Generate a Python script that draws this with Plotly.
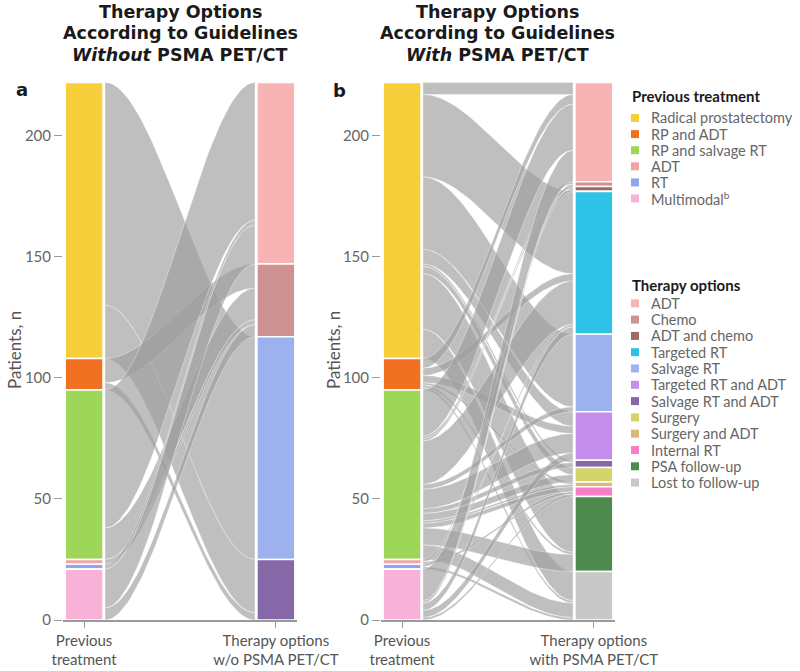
import numpy as np
import plotly.graph_objects as go

# ---------------- data ----------------
prev_labels = ["Radical prostatectomy", "RP and ADT", "RP and salvage RT", "ADT", "RT", "Multimodal<sup>b</sup>"]
prev_colors = ["#F7CF3B", "#F07122", "#9ED65A", "#F2A3A6", "#8EA6EE", "#F8B2D8"]

therapy_labels = ["ADT", "Chemo", "ADT and chemo", "Targeted RT", "Salvage RT", "Targeted RT and ADT",
                  "Salvage RT and ADT", "Surgery", "Surgery and ADT", "Internal RT", "PSA follow-up",
                  "Lost to follow-up"]
therapy_colors = ["#F8B4B4", "#CF9292", "#9C6B64", "#2EC3E6", "#9DB1EE", "#C58DEC",
                  "#8667A8", "#D5D46A", "#DDB87A", "#F77FC8", "#4E8A4E", "#C8C8C8"]

# patients: rows = previous treatment, columns = therapy option
flows_without = [
    [0, 0, 0, 0, 92, 0, 22, 0, 0, 0, 0, 0],   # Radical prostatectomy
    [0, 10, 0, 0, 0, 0, 3, 0, 0, 0, 0, 0],    # RP and ADT
    [57, 13, 0, 0, 0, 0, 0, 0, 0, 0, 0, 0],   # RP and salvage RT
    [0, 2, 0, 0, 0, 0, 0, 0, 0, 0, 0, 0],     # ADT
    [2, 0, 0, 0, 0, 0, 0, 0, 0, 0, 0, 0],     # RT
    [16, 5, 0, 0, 0, 0, 0, 0, 0, 0, 0, 0],    # Multimodal
]
flows_with = [
    [5, 0, 0, 34, 30, 6, 1, 3, 0, 0, 23, 12],
    [4, 0, 0, 3, 0, 3, 0, 0, 1, 0, 1, 1],
    [19, 1, 1, 18, 2, 8, 2, 3, 1, 2, 7, 6],
    [0, 0, 1, 0, 0, 0, 0, 0, 0, 1, 0, 0],
    [0, 0, 0, 1, 0, 0, 0, 0, 0, 0, 0, 1],
    [13, 1, 0, 3, 0, 3, 0, 0, 0, 1, 0, 0],
]
left_tick = "Previous<br>treatment"
right_ticks = ["Therapy options<br>w/o PSMA PET/CT", "Therapy options<br>with PSMA PET/CT"]
y_ticks = [0, 50, 100, 150, 200]

# ---------------- figure ----------------
W, H = 800, 671
def px(x):
    return x / W
def py(y):
    return 1 - y / H

BAR_W = 0.198
FLOW_FILL = "rgba(158,158,158,0.66)"
fig = go.Figure()


def add_panel(matrix, xa, ya):
    M = np.array(matrix, dtype=float)
    L = M.sum(1)
    R = M.sum(0)
    total = M.sum()
    left_top = total - np.concatenate([[0], np.cumsum(L)[:-1]])
    right_top = total - np.concatenate([[0], np.cumsum(R)[:-1]])
    x0, x1 = 1 + BAR_W / 2 + 0.01, 2 - BAR_W / 2 - 0.01
    t = np.linspace(0, 1, 60)
    s = 3 * t ** 2 - 2 * t ** 3
    xs = x0 + (x1 - x0) * t
    for i in range(M.shape[0]):
        for j in range(M.shape[1]):
            v = M[i, j]
            if v <= 0:
                continue
            lt = left_top[i] - M[i, :j].sum()
            rt = right_top[j] - M[:i, j].sum()
            up = lt + (rt - lt) * s
            lo = (lt - v) + ((rt - v) - (lt - v)) * s
            fig.add_trace(go.Scatter(
                x=np.concatenate([xs, xs[::-1], xs[:1]]),
                y=np.concatenate([up, lo[::-1], up[:1]]),
                mode="lines", fill="toself", fillcolor=FLOW_FILL,
                line=dict(color="rgba(255,255,255,0.7)", width=0.5),
                hoverinfo="skip", showlegend=False, xaxis=xa, yaxis=ya))
    for i, v in enumerate(L):
        if v > 0:
            fig.add_trace(go.Bar(x=[1], y=[v], base=[left_top[i] - v], width=BAR_W,
                                 marker=dict(color=prev_colors[i], line=dict(color="white", width=1.6)),
                                 showlegend=False, xaxis=xa, yaxis=ya, hoverinfo="skip"))
    for j, v in enumerate(R):
        if v > 0:
            fig.add_trace(go.Bar(x=[2], y=[v], base=[right_top[j] - v], width=BAR_W,
                                 marker=dict(color=therapy_colors[j], line=dict(color="white", width=1.6)),
                                 showlegend=False, xaxis=xa, yaxis=ya, hoverinfo="skip"))


add_panel(flows_without, "x", "y")
add_panel(flows_with, "x2", "y2")

FONT = "Lato"
ydom = [1 - 620 / H, 1 - 80 / H]
xcommon = dict(range=[0.89, 2.11], showgrid=False, zeroline=False, showline=True, automargin=False,
               linecolor="#9a9a9a", linewidth=1.5, ticks="outside", ticklen=6, tickcolor="#9a9a9a",
               tickvals=[1, 2], tickfont=dict(family=FONT, size=15, color="#555555"),
               fixedrange=True)
ycommon = dict(range=[0, 223], domain=ydom, showgrid=False, zeroline=False, showline=False,
               automargin=False, ticks="outside", ticklen=8, tickcolor="#9a9a9a", tickvals=y_ticks,
               tickfont=dict(family=FONT, size=15, color="#666666"), fixedrange=True)

fig.update_layout(
    template="none",
    width=W, height=H, autosize=False, margin=dict(l=0, r=0, t=0, b=0, pad=0),
    paper_bgcolor="white", plot_bgcolor="white", barmode="overlay", bargap=0,
    showlegend=False,
    xaxis=dict(domain=[px(63), px(297)], anchor="y", ticktext=[left_tick, right_ticks[0]], **xcommon),
    yaxis=dict(anchor="x", **ycommon),
    xaxis2=dict(domain=[px(381), px(615)], anchor="y2", ticktext=[left_tick, right_ticks[1]], **xcommon),
    yaxis2=dict(anchor="x2", **ycommon),
)

ann = []
def text(x, y, s, size, color="#555555", xanchor="center", yanchor="middle", angle=0, family=FONT):
    ann.append(dict(x=px(x), y=py(y), xref="paper", yref="paper", text=s, showarrow=False,
                    xanchor=xanchor, yanchor=yanchor, textangle=angle,
                    font=dict(family=family, size=size, color=color)))

TFONT = "DejaVu Sans"
titles = [["Therapy Options", "According to Guidelines", "<i>Without</i> PSMA PET/CT"],
          ["Therapy Options", "According to Guidelines", "<i>With</i> PSMA PET/CT"]]
for cx, lines in zip([180, 497], titles):
    for k, ln in enumerate(lines):
        text(cx, 12 + 21.5 * k, "<b>" + ln + "</b>", 17.5, "#1a1a1a", family=TFONT)

text(22, 90, "<b>a</b>", 18, "#1a1a1a", family=TFONT)
text(339, 91, "<b>b</b>", 18, "#1a1a1a", family=TFONT)
text(14, 350, "Patients, n", 17, "#555555", angle=-90)
text(333, 350, "Patients, n", 17, "#555555", angle=-90)

# legend
shapes = []
text(630, 96, "<b>Previous treatment</b>", 15, "#1a1a1a", xanchor="left")
for k, (lab, col) in enumerate(zip(prev_labels, prev_colors)):
    yc = 118 + 16.1 * k
    shapes.append(dict(type="rect", xref="paper", yref="paper", x0=px(631), x1=px(639),
                       y0=py(yc + 4), y1=py(yc - 4), fillcolor=col, line=dict(width=0)))
    text(649, yc, lab, 14.5, "#666666", xanchor="left")
text(630, 285, "<b>Therapy options</b>", 15, "#1a1a1a", xanchor="left")
for k, (lab, col) in enumerate(zip(therapy_labels, therapy_colors)):
    yc = 303.3 + 16.3 * k
    shapes.append(dict(type="rect", xref="paper", yref="paper", x0=px(631), x1=px(639),
                       y0=py(yc + 4), y1=py(yc - 4), fillcolor=col, line=dict(width=0)))
    text(649, yc, lab, 14.5, "#666666", xanchor="left")

fig.update_layout(annotations=ann, shapes=shapes)
fig.write_html("out.html", config={"displayModeBar": False, "staticPlot": True},
               post_script="document.body.style.margin='0';document.body.style.overflow='hidden';")
